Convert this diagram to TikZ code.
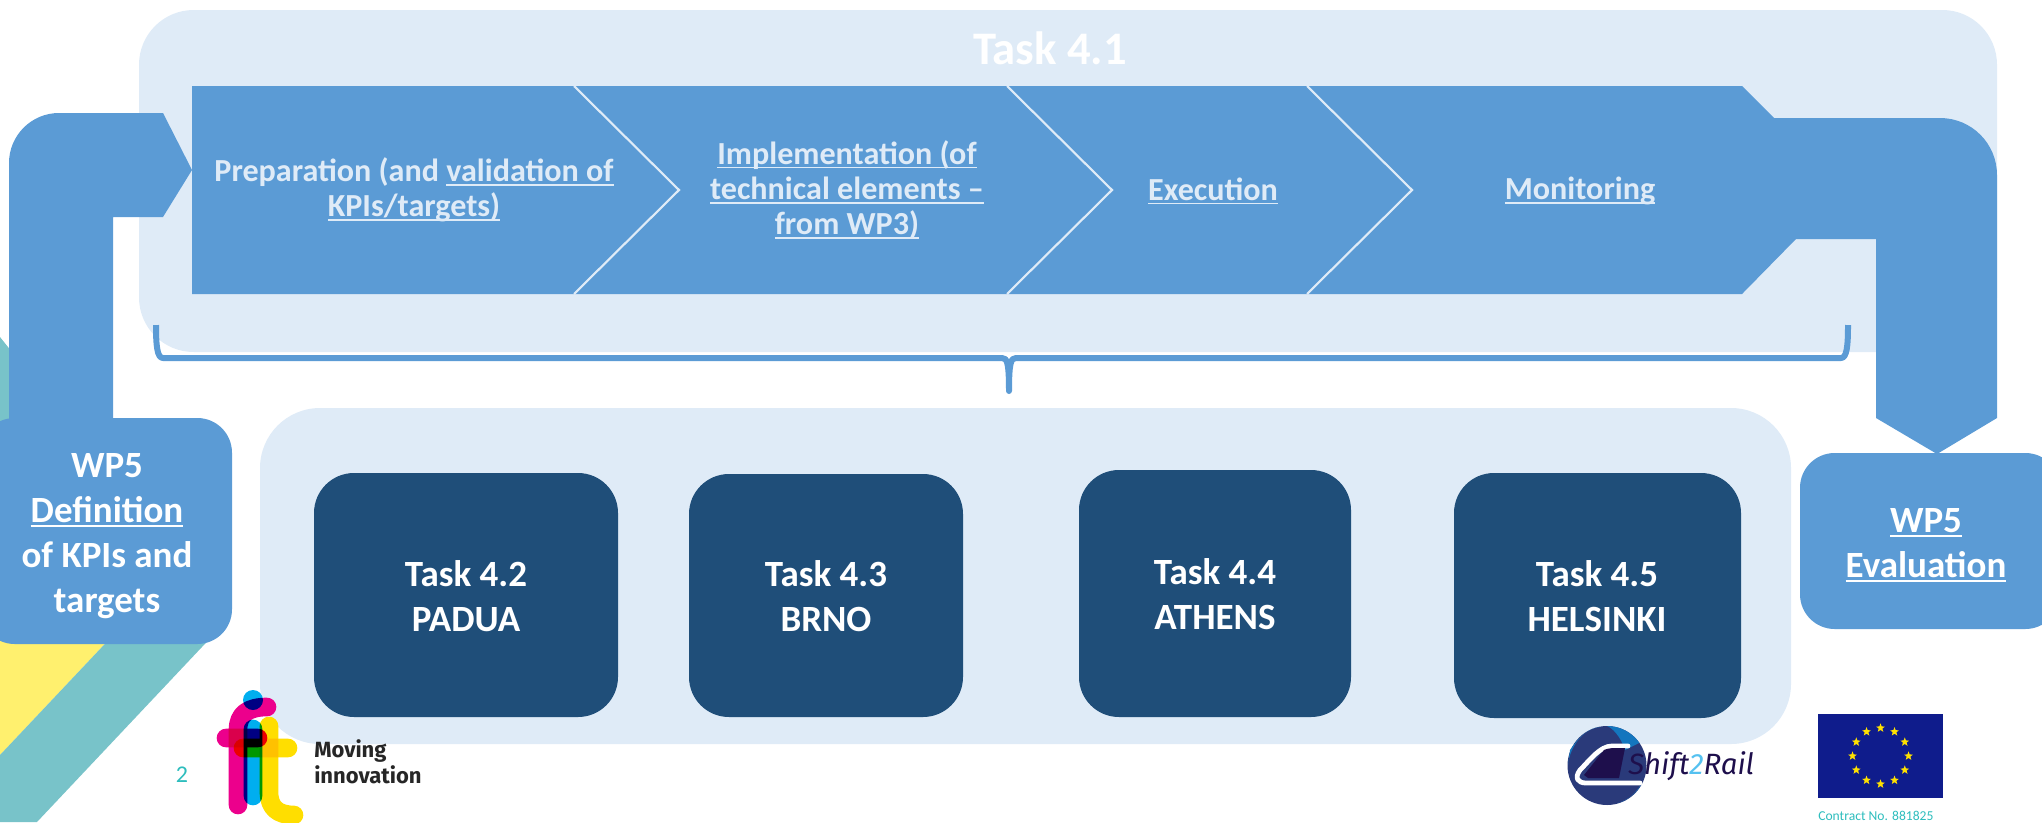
\documentclass[tikz,border=0pt]{standalone}
\usepackage{fontspec}
\setmainfont{Carlito}
\newfontfamily\logofont{Fira Sans}
\usetikzlibrary{shapes.geometric,calc}
\definecolor{midblue}{HTML}{5B9BD5}
\definecolor{lightblue}{HTML}{DFEBF7}
\definecolor{darkblue}{HTML}{1F4E79}
\definecolor{stripeteal}{HTML}{78C3C9}
\definecolor{stripeyellow}{HTML}{FFF06E}
\definecolor{pageteal}{HTML}{2DBDBD}
\definecolor{eublue}{HTML}{0F1C8C}
\definecolor{eustar}{HTML}{FFE100}
\definecolor{logopink}{HTML}{EC008C}
\definecolor{logocyan}{HTML}{00AEEF}
\definecolor{logoyellow}{HTML}{FFDE00}
\definecolor{srnavy}{HTML}{2A3A7A}
\definecolor{srblue}{HTML}{1476BE}
\definecolor{srdark}{HTML}{1E0F4C}
\definecolor{srsky}{HTML}{55C1F0}
\newsavebox{\ulbox}
\newcommand{\ulx}[1]{\sbox{\ulbox}{#1}\rlap{\rule[-0.13em]{\wd\ulbox}{0.055em}}\usebox{\ulbox}}
\def\px{0.75pt}
\tikzset{
  x=0.75pt,y=-0.75pt,
  box/.style={rounded corners=#1,inner sep=0pt,align=center,font=\bfseries\fontsize{27.75}{33.75}\selectfont,text=white},
  bandtext/.style={inner sep=0pt,align=center,text=lightblue,font=\bfseries\fontsize{24.1}{26.5}\selectfont},
  sep/.style={draw=lightblue,line width=1.6pt,line join=miter},
  logostroke/.style={line width=14pt,line cap=round,line join=round},
}
\begin{document}
\begin{tikzpicture}
\useasboundingbox (0,0) rectangle (2042,822);
% background stripes
\fill[stripeyellow] (0,630) -- (118,630) -- (0,755) -- cycle;
\fill[stripeteal] (0,755) -- (118,630) -- (218,630) -- (37,822) -- (0,822) -- cycle;
\fill[stripeteal] (0,337) -- (12,352) -- (12,430) -- (0,430) -- cycle;
% large panels
\node[box=41pt,fill=lightblue,minimum width=1858*\px,minimum height=342*\px] (panel) at (1068,181) {};
\node[box=45pt,fill=lightblue,minimum width=1531*\px,minimum height=336*\px] (lower) at (1025.5,576) {};
% bracket
\coordinate (brL) at (156,325);
\coordinate (brR) at (1848,325);
\coordinate (brC) at (1009,391);
\draw[midblue,line width=4.5pt,line join=round]
  (brL) .. controls (156,345) and (157,358) .. (163,358) -- (1002,358) .. controls (1007,358) and (1009,362) .. (brC)
  .. controls (1009,362) and (1011,358) .. (1016,358) -- (1841,358) .. controls (1847,358) and (1848,345) .. (brR);
% left arrow
\fill[midblue] (9,430) -- (9,163) .. controls (9,135.4) and (31.4,113) .. (59,113) -- (163,113) -- (192,170) -- (163,217) -- (113,217) -- (113,430) -- cycle;
% chevron band and right arrow
\fill[midblue] (192,86) -- (1742,86) -- (1774,118) -- (1940,118) .. controls (1971.5,118) and (1997,143.5) .. (1997,175) -- (1997,418) -- (1937,454) -- (1876,418) -- (1876,239) -- (1796,239) -- (1742,294) -- (192,294) -- cycle;
\draw[sep] (574,86) -- (679,190) -- (574,294);
\draw[sep] (1007,86) -- (1112,190) -- (1007,294);
\draw[sep] (1307,86) -- (1412,190) -- (1307,294);
% WP5 boxes
\node[box=26pt,fill=midblue,minimum width=252*\px,minimum height=226*\px] (wpL) at (106,531) {};
\node[box=26pt,fill=midblue,minimum width=260*\px,minimum height=176*\px] (wpR) at (1930,541) {};
\node[box=0pt] (wpLt) at (107,536) {WP5\\\ulx{Definition}\\of KPIs and\\targets};
\node[box=0pt] (wpRt) at (1926,545) {\ulx{WP5}\\\ulx{Evaluation}};
% task boxes
\node[box=30pt,fill=darkblue,minimum width=304*\px,minimum height=244*\px] (t42) at (466,595) {};
\node[box=30pt,fill=darkblue,minimum width=274*\px,minimum height=243*\px] (t43) at (826,595.5) {};
\node[box=30pt,fill=darkblue,minimum width=272*\px,minimum height=247*\px] (t44) at (1215,593.5) {};
\node[box=30pt,fill=darkblue,minimum width=287*\px,minimum height=245*\px] (t45) at (1597.5,595.5) {};
\node[box=0pt] (t42t) at (466,596) {Task 4.2\\PADUA};
\node[box=0pt] (t43t) at (826,596) {Task 4.3\\BRNO};
\node[box=0pt] (t44t) at (1215,594) {Task 4.4\\ATHENS};
\node[box=0pt] (t45t) at (1597,596) {Task 4.5\\HELSINKI};
% texts
\node[inner sep=0pt,text=white,font=\bfseries\fontsize{35}{38}\selectfont] (t41) at (1050,48) {Task 4.1};
\node[bandtext] (s1) at (414,190) {Preparation (and \ulx{validation of}\\\ulx{KPIs/targets)}};
\node[bandtext] (s2) at (847,190) {\ulx{Implementation (of}\\\ulx{technical elements –}\\\ulx{from WP3)}};
\node[bandtext] (s3) at (1213,191) {\ulx{Execution}};
\node[bandtext] (s4) at (1580,191) {\ulx{Monitoring}};
% fit logo
\begin{scope}[blend group=multiply]
  \draw[logostroke,logocyan] (253,729) -- (253,796);
  \fill[logocyan] (253,700) circle[radius=10];
  \draw[logostroke,logopink] (238,805) -- (238,730) .. controls (238,714) and (248,707) .. (267,707);
  \draw[logostroke,logopink] (226,738) -- (258,738);
  \draw[logostroke,logoyellow] (269,726) -- (269,792) .. controls (269,808) and (278,815) .. (294,815);
  \draw[logostroke,logoyellow] (243,748) -- (288,748);
\end{scope}
\node[inner sep=0pt,anchor=west,align=left,text=black!85,font=\logofont\bfseries\fontsize{16.5}{19.5}\selectfont] (moving) at (314,762) {Moving\\innovation};
\node[inner sep=0pt,text=pageteal,font=\fontsize{18}{20}\selectfont] (pagenum) at (182,775) {2};
% Shift2Rail logo
\fill[srnavy] (1607,765.5) circle[radius=39.5];
\fill[srblue] (1607,726) arc[start angle=-90,end angle=-35,radius=39.5] -- (1625,750) .. controls (1620,735) and (1612,728) .. cycle;
\fill[srblue] (1642,783) arc[start angle=27,end angle=75,radius=39.5] .. controls (1630,800) and (1636,792) .. (1642,783) -- cycle;
\fill[srblue] (1568,765) .. controls (1570,745) and (1585,728) .. (1600,727) .. controls (1588,728) and (1578,738) .. (1570,750) -- cycle;
\draw[white,line width=3.6pt,line join=round,line cap=round] (1628,746) -- (1612,746) .. controls (1600,746) and (1590,760) .. (1580,770) .. controls (1574,778) and (1578,783) .. (1586,783) -- (1640,783);
\fill[srdark] (1584,775) -- (1604,750) .. controls (1608,748) and (1612,748) .. (1625,748) -- (1619,778) -- (1588,778) -- cycle;
\node[inner sep=0pt,anchor=west,text=srdark,font=\logofont\itshape\fontsize{22}{26}\selectfont] (sr) at (1628,766) {Shift\textcolor{srsky}{2}Rail};
% EU flag
\node[inner sep=0pt,fill=eublue,minimum width=125*\px,minimum height=84*\px] (flag) at (1880.5,756) {};
\foreach \a in {0,30,...,330}
  \node[star,star points=5,star point ratio=2.4,fill=eustar,inner sep=0pt,minimum size=7pt] (eu\a) at ($(flag.center)+(\a:28)$) {};
\node[inner sep=0pt,anchor=west,text=pageteal,font=\fontsize{10.2}{12}\selectfont] (contract) at (1818,816) {Contract No. 881825};
\end{tikzpicture}
\end{document}
